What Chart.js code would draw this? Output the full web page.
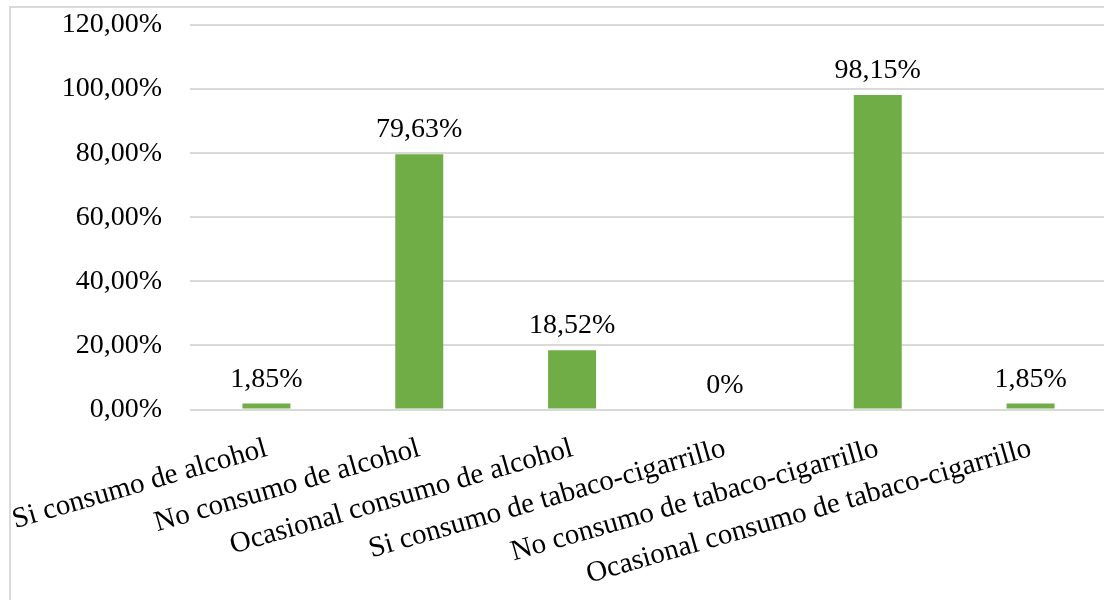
<!DOCTYPE html>
<html>
<head>
<meta charset="utf-8">
<script src="https://cdn.jsdelivr.net/npm/chart.js@4/dist/chart.umd.min.js"></script>
<style>
  body { margin: 0; overflow: hidden; background: #fff; }
  #marco { position: absolute; left: 9px; top: 6px; width: 1200px; height: 700px;
           border-left: 2px solid #d9d9d9; border-top: 2px solid #d9d9d9; }
  #grafico { position: absolute; left: 0; top: 0; }
</style>
</head>
<body>
<div id="marco"></div>
<canvas id="grafico" width="1107" height="600"></canvas>
<script>
// Datos del gráfico
const categorias = [
  'Si consumo de alcohol',
  'No consumo de alcohol',
  'Ocasional consumo de alcohol',
  'Si consumo de tabaco-cigarrillo',
  'No consumo de tabaco-cigarrillo',
  'Ocasional consumo de tabaco-cigarrillo'
];
const porcentajes = [1.85, 79.63, 18.52, 0, 98.15, 1.85];
const ejeMax = 120;
const ejePaso = 20;

const familia = "'Liberation Serif', 'Times New Roman', serif";
const fuente = { family: familia, size: 28 };
const fuenteCategorias = { family: familia, size: 29 };

function formatoEje(v) {
  return v.toFixed(2).replace('.', ',') + '%';
}
function formatoEtiqueta(v) {
  return v === 0 ? '0%' : v.toFixed(2).replace('.', ',') + '%';
}

// Etiquetas encima de las barras
const etiquetasBarras = {
  id: 'etiquetasBarras',
  afterDatasetsDraw(chart) {
    const ctx = chart.ctx;
    const meta = chart.getDatasetMeta(0);
    ctx.save();
    ctx.font = fuente.size + 'px ' + fuente.family;
    ctx.fillStyle = '#000';
    ctx.textAlign = 'center';
    ctx.textBaseline = 'alphabetic';
    meta.data.forEach((barra, i) => {
      ctx.fillText(formatoEtiqueta(porcentajes[i]), barra.x, barra.y - 17);
    });
    ctx.restore();
  }
};

const ctx = document.getElementById('grafico').getContext('2d');
const grafico = new Chart(ctx, {
  type: 'bar',
  data: {
    labels: categorias,
    datasets: [{
      data: porcentajes,
      backgroundColor: '#70AD47',
      categoryPercentage: 1,
      barPercentage: 0.314
    }]
  },
  options: {
    responsive: false,
    animation: false,
    layout: { padding: { top: 25, right: 0, bottom: 0, left: 0 } },
    plugins: {
      legend: { display: false },
      tooltip: { enabled: false }
    },
    scales: {
      x: {
        grid: { display: false },
        border: { display: false },
        ticks: {
          color: '#000',
          font: fuenteCategorias,
          autoSkip: false,
          minRotation: 16,
          maxRotation: 16,
          padding: 14
        },
        afterFit(scale) {
          scale.paddingLeft = 0;
          scale.paddingRight = 0;
          scale.height = 190.5;
        }
      },
      y: {
        min: 0,
        max: ejeMax,
        border: { display: false },
        grid: { color: '#d9d9d9', lineWidth: 2, drawTicks: false },
        ticks: {
          stepSize: ejePaso,
          color: '#000',
          font: fuente,
          padding: 28,
          callback: (v) => formatoEje(v)
        },
        afterFit(scale) {
          scale.width = 190;
          scale.paddingTop = 0;
          scale.paddingBottom = 0;
        }
      }
    }
  },
  plugins: [etiquetasBarras]
});
</script>
</body>
</html>
